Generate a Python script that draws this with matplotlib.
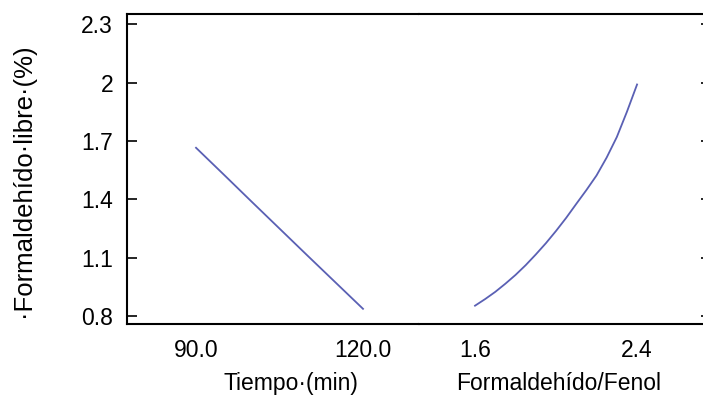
import numpy as np
import matplotlib.pyplot as plt

# efecto principal de cada factor sobre el formaldehído libre
tiempo = [90, 95, 100, 105, 110, 115, 120]
formol_tiempo = [1.665, 1.527, 1.388, 1.25, 1.112, 0.975, 0.838]

relacion = [1.6, 1.65, 1.7, 1.75, 1.8, 1.85, 1.9, 1.95, 2.0, 2.05,
            2.1, 2.15, 2.2, 2.25, 2.3, 2.35, 2.4]
formol_relacion = [0.854, 0.888, 0.925, 0.967, 1.012, 1.062, 1.117, 1.175, 1.238, 1.305,
                   1.377, 1.448, 1.523, 1.615, 1.72, 1.85, 1.99]

yticks = [0.8, 1.1, 1.4, 1.7, 2.0, 2.3]
yticklabels = ["0.8", "1.1", "1.4", "1.7", "2", "2.3"]

fuente = ['Liberation Sans', 'DejaVu Sans']
plt.rcParams['font.family'] = fuente
color = '#5a60b4'

W, H = 703, 398
fig = plt.figure(figsize=(W / 100, H / 100), dpi=100)

# dos paneles pegados, en coordenadas de pixel
left, mid, right = 127, 419, 703
top, bottom = 14, 324
ax1 = fig.add_axes([left / W, 1 - bottom / H, (mid - left) / W, (bottom - top) / H])
ax2 = fig.add_axes([mid / W, 1 - bottom / H, (right - mid) / W, (bottom - top) / H])

ax1.plot(tiempo, formol_tiempo, color=color, lw=1.3)
ax2.plot(relacion, formol_relacion, color=color, lw=1.3)

ax1.set_xlim(77.6, 130.06)
ax2.set_xlim(1.3235, 2.7255)
for ax in (ax1, ax2):
    ax.set_ylim(0.76, 2.352)
    ax.spines['top'].set_linewidth(1.5)
    ax.spines['bottom'].set_linewidth(1.5)
    ax.spines['right'].set_visible(False)
    ax.tick_params(axis='x', length=0, pad=11, labelsize=16.5)

ax1.set_xticks([90, 120], ["90.0", "120.0"])
ax2.set_xticks([1.6, 2.4], ["1.6", "2.4"])

ax1.spines['left'].set_linewidth(1.5)
ax1.set_yticks(yticks, yticklabels)
ax1.tick_params(axis='y', direction='in', length=7, width=1.2, pad=10, labelsize=16.5)

ax2.spines['left'].set_visible(False)
ax2.set_yticks(yticks)
ax2.tick_params(axis='y', left=False, right=True, labelleft=False,
                direction='in', length=1.5, width=1.2)

ax1.set_xlabel("Tiempo·(min)", fontsize=16.5)
ax1.xaxis.set_label_coords(0.562, -0.155)
ax2.set_xlabel("Formaldehído/Fenol", fontsize=16.5)
ax2.xaxis.set_label_coords(0.49, -0.155)

ax1.set_ylabel("·Formaldehído·libre·(%)", fontsize=18.5)
ax1.yaxis.set_label_coords(-0.315, 0.4645)

fig.savefig("out.png", dpi=100)
